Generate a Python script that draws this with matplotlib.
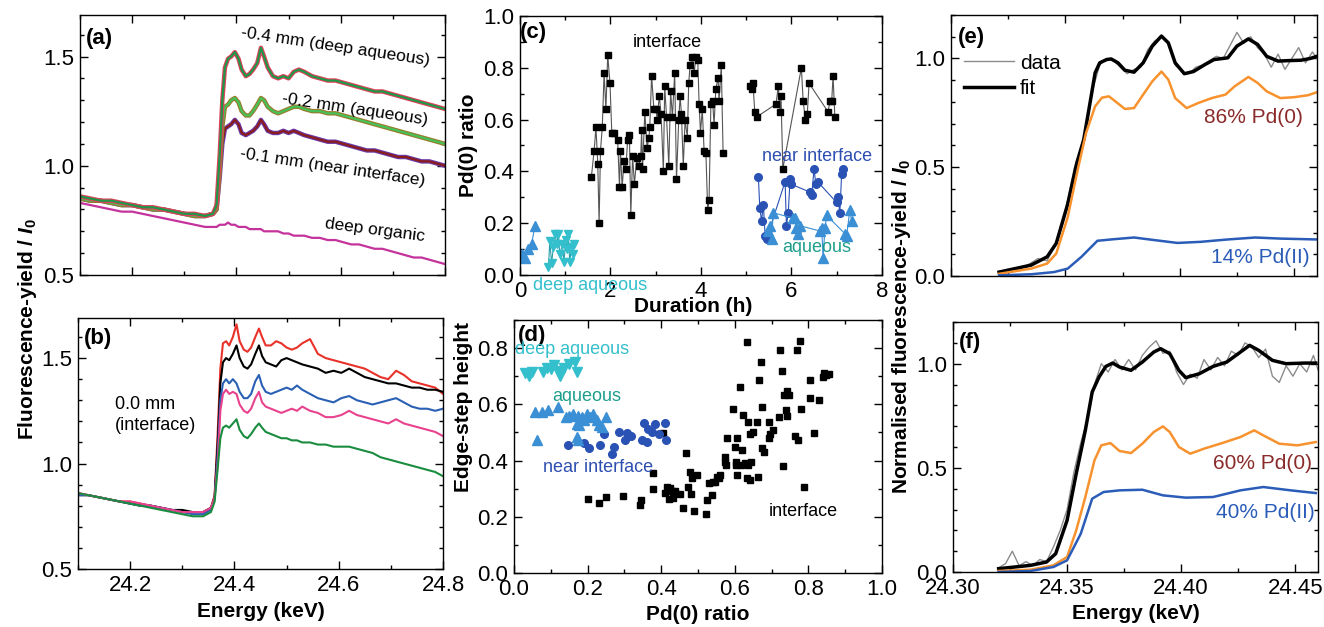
import matplotlib
matplotlib.use("Agg")
import matplotlib.pyplot as plt
from matplotlib.ticker import MultipleLocator, FormatStrFormatter

plt.rcParams['font.family'] = ['Liberation Sans', 'DejaVu Sans']
plt.rcParams['mathtext.fontset'] = 'custom'
plt.rcParams['mathtext.it'] = 'Liberation Sans:italic:bold'
plt.rcParams['mathtext.rm'] = 'Liberation Sans:bold'
plt.rcParams['axes.linewidth'] = 1.0

# ---------------- (a) / (b) spectra ----------------
E_ab = [24.10, 24.12, 24.14, 24.16, 24.18, 24.20, 24.22, 24.24, 24.26, 24.28, 24.30, 24.32, 24.34,
        24.355, 24.362, 24.368, 24.373, 24.378, 24.384, 24.39, 24.397, 24.404, 24.41, 24.418,
        24.425, 24.432, 24.44, 24.447, 24.453, 24.46,
        24.47, 24.48, 24.49, 24.50, 24.51, 24.52, 24.53,
        24.545, 24.56, 24.575, 24.59, 24.605, 24.62, 24.635, 24.65, 24.665, 24.68, 24.695,
        24.71, 24.725, 24.74, 24.755, 24.77, 24.785, 24.80]

a_deep_aq = [0.86, 0.85, 0.84, 0.84, 0.83, 0.82, 0.81, 0.81, 0.80, 0.79, 0.78, 0.78, 0.77,
             0.78, 0.82, 1.05, 1.30, 1.45, 1.49, 1.50, 1.52, 1.49, 1.44, 1.41, 1.42, 1.44, 1.47, 1.54, 1.50, 1.45,
             1.41, 1.40, 1.41, 1.40, 1.43, 1.44, 1.43,
             1.41, 1.40, 1.39, 1.39, 1.38, 1.37, 1.36, 1.35, 1.34, 1.34, 1.33, 1.32, 1.31, 1.30, 1.29, 1.28, 1.27, 1.26]
a_aq = [0.85, 0.84, 0.84, 0.83, 0.82, 0.82, 0.81, 0.80, 0.80, 0.79, 0.78, 0.77, 0.77,
        0.78, 0.80, 0.98, 1.18, 1.27, 1.28, 1.30, 1.31, 1.29, 1.25, 1.23, 1.23, 1.25, 1.28, 1.31, 1.30, 1.27,
        1.25, 1.24, 1.25, 1.26, 1.27, 1.27, 1.26,
        1.25, 1.25, 1.24, 1.24, 1.23, 1.22, 1.21, 1.20, 1.19, 1.18, 1.17, 1.16, 1.15, 1.14, 1.13, 1.12, 1.11, 1.10]
a_near = [0.85, 0.84, 0.84, 0.83, 0.82, 0.82, 0.81, 0.80, 0.80, 0.79, 0.78, 0.77, 0.77,
          0.78, 0.80, 0.95, 1.10, 1.17, 1.18, 1.19, 1.21, 1.19, 1.15, 1.14, 1.15, 1.16, 1.18, 1.21, 1.19, 1.16,
          1.15, 1.15, 1.16, 1.15, 1.16, 1.15, 1.14,
          1.13, 1.12, 1.11, 1.11, 1.10, 1.09, 1.08, 1.07, 1.07, 1.06, 1.05, 1.04, 1.04, 1.03, 1.02, 1.02, 1.01, 1.00]
a_organic = [0.83, 0.82, 0.81, 0.80, 0.79, 0.79, 0.78, 0.77, 0.76, 0.75, 0.74, 0.73, 0.72,
             0.72, 0.72, 0.73, 0.73, 0.73, 0.74, 0.73, 0.73, 0.72, 0.72, 0.72, 0.71, 0.71, 0.71, 0.71, 0.70, 0.70,
             0.70, 0.70, 0.69, 0.69, 0.68, 0.68, 0.68,
             0.67, 0.67, 0.66, 0.66, 0.65, 0.64, 0.64, 0.63, 0.62, 0.62, 0.61, 0.60, 0.59, 0.58, 0.58, 0.57, 0.56, 0.55]

b_red = [0.86, 0.85, 0.84, 0.83, 0.82, 0.82, 0.81, 0.80, 0.79, 0.78, 0.77, 0.77, 0.77,
         0.79, 0.85, 1.15, 1.45, 1.57, 1.58, 1.56, 1.60, 1.66, 1.58, 1.54, 1.53, 1.55, 1.60, 1.64, 1.60, 1.56,
         1.56, 1.58, 1.57, 1.55, 1.54, 1.55, 1.57,
         1.59, 1.52, 1.50, 1.49, 1.48, 1.47, 1.46, 1.45, 1.43, 1.41, 1.40, 1.44, 1.42, 1.39, 1.38, 1.37, 1.36, 1.33]
b_black = [0.85, 0.85, 0.84, 0.83, 0.82, 0.81, 0.80, 0.80, 0.79, 0.78, 0.78, 0.77, 0.77,
           0.79, 0.84, 1.10, 1.38, 1.48, 1.50, 1.49, 1.52, 1.56, 1.50, 1.46, 1.45, 1.47, 1.52, 1.56, 1.51, 1.48,
           1.47, 1.46, 1.49, 1.50, 1.49, 1.48, 1.47,
           1.46, 1.45, 1.43, 1.44, 1.43, 1.45, 1.43, 1.41, 1.40, 1.39, 1.38, 1.38, 1.37, 1.36, 1.36, 1.35, 1.35, 1.34]
b_blue = [0.85, 0.85, 0.84, 0.83, 0.82, 0.81, 0.80, 0.80, 0.79, 0.78, 0.77, 0.76, 0.76,
          0.78, 0.83, 1.05, 1.30, 1.38, 1.40, 1.38, 1.40, 1.38, 1.34, 1.31, 1.31, 1.33, 1.39, 1.42, 1.37, 1.34,
          1.33, 1.34, 1.35, 1.36, 1.35, 1.37, 1.35,
          1.33, 1.31, 1.30, 1.29, 1.31, 1.32, 1.30, 1.29, 1.28, 1.29, 1.30, 1.31, 1.29, 1.27, 1.26, 1.26, 1.25, 1.26]
b_pink = [0.86, 0.85, 0.84, 0.83, 0.82, 0.82, 0.81, 0.80, 0.79, 0.78, 0.77, 0.77, 0.77,
          0.79, 0.84, 1.00, 1.25, 1.33, 1.35, 1.33, 1.34, 1.33, 1.28, 1.25, 1.24, 1.26, 1.31, 1.34, 1.29, 1.27,
          1.26, 1.25, 1.24, 1.25, 1.26, 1.25, 1.27,
          1.25, 1.24, 1.22, 1.22, 1.23, 1.25, 1.23, 1.22, 1.21, 1.20, 1.19, 1.21, 1.19, 1.18, 1.17, 1.16, 1.15, 1.13]
b_green = [0.86, 0.85, 0.84, 0.83, 0.82, 0.81, 0.80, 0.79, 0.78, 0.77, 0.76, 0.75, 0.75,
           0.77, 0.82, 0.98, 1.12, 1.17, 1.18, 1.17, 1.19, 1.21, 1.16, 1.13, 1.12, 1.14, 1.17, 1.19, 1.17, 1.15,
           1.14, 1.13, 1.12, 1.12, 1.11, 1.11, 1.10,
           1.10, 1.09, 1.09, 1.08, 1.08, 1.08, 1.07, 1.06, 1.05, 1.03, 1.02, 1.01, 1.00, 0.99, 0.98, 0.97, 0.96, 0.94]

# ---------------- (c) Pd(0) ratio vs duration ----------------
t_int_a = [1.58, 1.64, 1.68, 1.72, 1.75, 1.78, 1.82, 1.86, 1.90, 1.94,
           1.99, 2.03, 2.08, 2.16, 2.20, 2.22, 2.26, 2.30, 2.34, 2.38,
           2.42, 2.45, 2.49, 2.53, 2.58, 2.63, 2.67, 2.69, 2.71, 2.76,
           2.81, 2.85, 2.87, 2.91, 2.96, 3.01, 3.03, 3.08, 3.12, 3.17,
           3.20, 3.24, 3.29, 3.33, 3.37, 3.42, 3.46, 3.51, 3.54, 3.57,
           3.61, 3.65, 3.70, 3.73, 3.76, 3.81, 3.85, 3.89, 3.93, 3.96,
           3.99, 4.03, 4.07, 4.11, 4.15, 4.18, 4.22, 4.26, 4.29, 4.33,
           4.38, 4.40, 4.45, 4.49]
r_int_a = [0.38, 0.48, 0.57, 0.43, 0.20, 0.48, 0.57, 0.78, 0.64, 0.85,
           0.74, 0.55, 0.55, 0.52, 0.34, 0.48, 0.34, 0.44, 0.41, 0.52,
           0.54, 0.23, 0.46, 0.35, 0.45, 0.42, 0.46, 0.56, 0.41, 0.63,
           0.49, 0.53, 0.57, 0.77, 0.64, 0.64, 0.60, 0.69, 0.62, 0.40,
           0.73, 0.61, 0.42, 0.71, 0.61, 0.78, 0.37, 0.60, 0.69, 0.62,
           0.42, 0.60, 0.53, 0.74, 0.81, 0.84, 0.78, 0.84, 0.83, 0.66,
           0.55, 0.64, 0.48, 0.47, 0.25, 0.29, 0.66, 0.67, 0.58, 0.72,
           0.76, 0.67, 0.81, 0.47]
t_int_b = [5.08, 5.12, 5.15, 5.19, 5.23, 5.66, 5.71, 5.75, 5.77, 5.81,
           6.22, 6.26, 6.31, 6.35, 6.39, 6.81, 6.85, 6.89, 6.92, 6.96]
r_int_b = [0.73, 0.72, 0.74, 0.63, 0.61, 0.66, 0.73, 0.63, 0.69, 0.41,
           0.80, 0.67, 0.60, 0.62, 0.74, 0.63, 0.67, 0.67, 0.77, 0.61]
t_near = [5.27, 5.30, 5.34, 5.38, 5.42, 5.45, 5.86, 5.89, 5.93, 5.97, 6.00,
          6.41, 6.45, 6.50, 6.54, 6.58, 7.00, 7.03, 7.07, 7.11, 7.15]
r_near = [0.38, 0.26, 0.21, 0.27, 0.15, 0.14, 0.36, 0.19, 0.24, 0.37, 0.35,
          0.32, 0.31, 0.41, 0.35, 0.36, 0.28, 0.30, 0.24, 0.39, 0.41]
t_aq_a = [0.04, 0.11, 0.18, 0.26, 0.33]
r_aq_a = [0.08, 0.065, 0.10, 0.12, 0.19]
t_aq_b = [5.49, 5.52, 5.56, 5.60, 6.04, 6.08, 6.11, 6.15, 6.19,
          6.63, 6.67, 6.70, 6.74, 6.78, 7.18, 7.22, 7.29, 7.33]
r_aq_b = [0.17, 0.19, 0.14, 0.24, 0.22, 0.22, 0.18, 0.16, 0.19,
          0.17, 0.18, 0.065, 0.18, 0.23, 0.16, 0.15, 0.25, 0.21]
t_deep = [0.63, 0.66, 0.70, 0.74, 0.77, 0.81, 0.85, 0.88, 0.94,
          0.97, 1.02, 1.05, 1.07, 1.10, 1.14, 1.18, 1.19]
r_deep = [0.03, 0.13, 0.045, 0.11, 0.16, 0.12, 0.16, 0.08, 0.12,
          0.05, 0.135, 0.10, 0.16, 0.05, 0.11, 0.08, 0.12]

# ---------------- (d) edge-step height vs Pd(0) ratio ----------------
d_deep_x = [0.03, 0.04, 0.05, 0.08, 0.09, 0.10, 0.11, 0.12, 0.125, 0.135, 0.15, 0.165, 0.17]
d_deep_y = [0.71, 0.70, 0.715, 0.715, 0.73, 0.725, 0.74, 0.72, 0.70, 0.73, 0.745, 0.75, 0.715]
d_aq_x = [0.057, 0.075, 0.093, 0.12, 0.14, 0.15, 0.16, 0.17, 0.175, 0.184, 0.19,
          0.198, 0.207, 0.216, 0.225, 0.232, 0.238, 0.25, 0.063, 0.17, 0.175, 0.177]
d_aq_y = [0.573, 0.573, 0.58, 0.59, 0.555, 0.56, 0.567, 0.53, 0.56, 0.556, 0.543,
          0.567, 0.556, 0.567, 0.543, 0.526, 0.52, 0.556, 0.473, 0.483, 0.473, 0.526]
d_near_x = [0.148, 0.189, 0.205, 0.234, 0.245, 0.266, 0.273, 0.284, 0.302, 0.306,
            0.317, 0.347, 0.352, 0.361, 0.365, 0.374, 0.383, 0.393, 0.409, 0.413]
d_near_y = [0.455, 0.463, 0.446, 0.455, 0.496, 0.423, 0.448, 0.502, 0.473, 0.499,
            0.487, 0.473, 0.532, 0.467, 0.514, 0.502, 0.53, 0.493, 0.535, 0.473]
d_int_x = [0.202, 0.231, 0.249, 0.295, 0.343, 0.345, 0.379, 0.377, 0.406, 0.411,
           0.415, 0.42, 0.424, 0.429, 0.433, 0.438, 0.451, 0.458, 0.468, 0.474,
           0.479, 0.48, 0.483, 0.488, 0.497, 0.521, 0.524, 0.529, 0.538, 0.542,
           0.547, 0.551, 0.556, 0.56, 0.572, 0.574, 0.577, 0.58, 0.595, 0.601,
           0.604, 0.606, 0.607, 0.604, 0.615, 0.617, 0.619, 0.622, 0.628, 0.633,
           0.633, 0.635, 0.637, 0.64, 0.642, 0.645, 0.649, 0.66, 0.662, 0.667,
           0.671, 0.674, 0.675, 0.678, 0.694, 0.692, 0.696, 0.704, 0.719, 0.722,
           0.728, 0.73, 0.733, 0.74, 0.742, 0.743, 0.746, 0.764, 0.769, 0.773,
           0.778, 0.78, 0.787, 0.803, 0.805, 0.814, 0.828, 0.84, 0.843, 0.849, 0.855]
d_int_y = [0.262, 0.25, 0.271, 0.275, 0.242, 0.26, 0.355, 0.298, 0.499, 0.284,
           0.307, 0.262, 0.301, 0.29, 0.266, 0.29, 0.281, 0.23, 0.426, 0.307,
           0.361, 0.28, 0.337, 0.219, 0.348, 0.21, 0.26, 0.319, 0.278, 0.322,
           0.325, 0.343, 0.337, 0.348, 0.414, 0.396, 0.384, 0.479, 0.582, 0.449,
           0.384, 0.479, 0.348, 0.396, 0.662, 0.384, 0.437, 0.561, 0.39, 0.337,
           0.822, 0.538, 0.384, 0.496, 0.331, 0.396, 0.502, 0.538, 0.343, 0.686,
           0.751, 0.591, 0.443, 0.432, 0.538, 0.479, 0.496, 0.508, 0.556, 0.792,
           0.719, 0.381, 0.635, 0.579, 0.557, 0.648, 0.633, 0.489, 0.792, 0.473,
           0.827, 0.585, 0.307, 0.686, 0.624, 0.499, 0.617, 0.697, 0.712, 0.703, 0.709]

# ---------------- (e) XANES fit, 86 % Pd(0) ----------------
E_e_data = [24.321, 24.325, 24.33, 24.335, 24.338, 24.342, 24.346, 24.35, 24.354, 24.358,
            24.362, 24.365, 24.368, 24.371, 24.374, 24.377, 24.38, 24.383, 24.386, 24.389,
            24.392, 24.395, 24.398, 24.401, 24.404, 24.407, 24.41, 24.413, 24.416, 24.419,
            24.422, 24.425, 24.428, 24.431, 24.434, 24.437, 24.44, 24.443, 24.446, 24.449,
            24.452, 24.455, 24.458, 24.46]
e_data = [0.02, 0.03, 0.03, 0.06, 0.08, 0.07, 0.15, 0.30, 0.50, 0.62,
          0.86, 0.97, 1.00, 0.99, 0.96, 0.93, 0.95, 0.96, 1.04, 1.08,
          1.10, 1.07, 0.97, 0.94, 0.93, 0.96, 0.97, 0.99, 1.01, 1.00,
          1.06, 1.12, 1.07, 1.10, 1.05, 1.02, 0.96, 1.02, 0.95, 1.00,
          1.05, 0.98, 1.03, 1.00]
E_e_fit = [24.321, 24.335, 24.342, 24.346, 24.351, 24.355, 24.358, 24.361, 24.363, 24.365,
           24.368, 24.370, 24.373, 24.376, 24.380, 24.384, 24.388, 24.392, 24.395, 24.398,
           24.402, 24.406, 24.411, 24.415, 24.421, 24.425, 24.430, 24.434, 24.438, 24.443,
           24.447, 24.453, 24.457, 24.460]
e_fit = [0.018, 0.05, 0.088, 0.15, 0.33, 0.52, 0.626, 0.81, 0.934, 0.98,
         0.995, 0.998, 0.98, 0.946, 0.937, 0.98, 1.057, 1.103, 1.072, 0.98,
         0.93, 0.94, 0.972, 0.995, 1.003, 1.057, 1.09, 1.065, 1.01, 0.988,
         0.99, 0.992, 1.0, 1.01]
E_e_pd0 = [24.321, 24.335, 24.342, 24.346, 24.351, 24.355, 24.359, 24.363, 24.366, 24.369,
           24.371, 24.376, 24.380, 24.384, 24.388, 24.392, 24.395, 24.398, 24.403, 24.408,
           24.414, 24.420, 24.424, 24.430, 24.434, 24.438, 24.444, 24.450, 24.456, 24.460]
e_pd0 = [0.01, 0.034, 0.057, 0.103, 0.27, 0.47, 0.657, 0.78, 0.82, 0.826,
         0.81, 0.768, 0.772, 0.834, 0.895, 0.94, 0.903, 0.818, 0.772, 0.795,
         0.818, 0.834, 0.872, 0.915, 0.888, 0.849, 0.818, 0.822, 0.831, 0.845]
E_e_pd2 = [24.321, 24.335, 24.345, 24.351, 24.357, 24.364, 24.371, 24.380, 24.389, 24.399,
           24.409, 24.421, 24.433, 24.444, 24.460]
e_pd2 = [0.003, 0.008, 0.018, 0.034, 0.088, 0.162, 0.169, 0.177, 0.165, 0.152,
         0.157, 0.168, 0.177, 0.172, 0.168]

# ---------------- (f) XANES fit, 60 % Pd(0) ----------------
E_f_data = [24.320, 24.323, 24.326, 24.329, 24.332, 24.335, 24.338, 24.341, 24.344, 24.347,
            24.350, 24.353, 24.356, 24.359, 24.362, 24.365, 24.368, 24.371, 24.374, 24.377,
            24.380, 24.383, 24.386, 24.389, 24.392, 24.395, 24.398, 24.401, 24.404, 24.407,
            24.410, 24.413, 24.416, 24.419, 24.422, 24.425, 24.428, 24.431, 24.434, 24.437,
            24.440, 24.443, 24.446, 24.449, 24.452, 24.455, 24.458, 24.46]
f_data = [0.02, 0.04, 0.10, 0.03, 0.05, 0.03, 0.06, 0.05, 0.12, 0.20,
          0.30, 0.48, 0.62, 0.74, 0.90, 1.00, 0.96, 1.02, 0.97, 1.02,
          0.97, 1.04, 1.08, 1.11, 1.05, 1.06, 0.96, 0.90, 0.95, 0.93,
          1.02, 0.97, 1.03, 0.99, 1.06, 1.04, 1.10, 1.08, 1.03, 1.07,
          0.94, 0.91, 0.99, 0.94, 1.00, 0.96, 1.04, 0.97]
E_f_fit = [24.320, 24.334, 24.341, 24.345, 24.350, 24.354, 24.358, 24.361, 24.364, 24.367,
           24.370, 24.373, 24.378, 24.383, 24.388, 24.391, 24.395, 24.399, 24.402, 24.408,
           24.414, 24.420, 24.426, 24.430, 24.434, 24.440, 24.446, 24.454, 24.459]
f_fit = [0.016, 0.032, 0.048, 0.088, 0.248, 0.472, 0.68, 0.864, 0.936, 0.987,
         1.003, 0.984, 0.968, 1.008, 1.056, 1.072, 1.048, 0.968, 0.933, 0.952,
         0.987, 1.008, 1.056, 1.088, 1.064, 1.016, 1.0, 1.003, 1.003]
E_f_pd0 = [24.320, 24.334, 24.344, 24.350, 24.354, 24.358, 24.362, 24.365, 24.369, 24.373,
           24.378, 24.383, 24.388, 24.392, 24.395, 24.399, 24.404, 24.410, 24.418, 24.426,
           24.432, 24.436, 24.443, 24.451, 24.459]
f_pd0 = [0.005, 0.011, 0.032, 0.072, 0.2, 0.36, 0.536, 0.608, 0.619, 0.581,
         0.571, 0.616, 0.672, 0.699, 0.672, 0.6, 0.568, 0.592, 0.619, 0.648,
         0.68, 0.656, 0.616, 0.608, 0.624]
E_f_pd2 = [24.320, 24.334, 24.344, 24.350, 24.356, 24.361, 24.366, 24.373, 24.383, 24.392,
           24.402, 24.414, 24.426, 24.436, 24.448, 24.459]
f_pd2 = [0.0, 0.005, 0.024, 0.056, 0.184, 0.352, 0.384, 0.392, 0.395, 0.368,
         0.357, 0.36, 0.392, 0.408, 0.392, 0.379]

C_NEAR = '#2a52b4'
C_AQ = '#3b8fd4'
C_DEEP = '#33bfcc'
C_ORANGE = '#f7922e'
C_PD2 = '#2a5cb8'
C_PD0_TXT = '#8b2a2a'


def style(ax, xmaj, xmin, ymaj, ymin):
    ax.xaxis.set_major_locator(MultipleLocator(xmaj))
    ax.xaxis.set_minor_locator(MultipleLocator(xmin))
    ax.yaxis.set_major_locator(MultipleLocator(ymaj))
    ax.yaxis.set_minor_locator(MultipleLocator(ymin))
    ax.tick_params(which='both', direction='in', top=True, right=True,
                   labelsize=16, width=1, pad=4)
    ax.tick_params(which='major', length=6)
    ax.tick_params(which='minor', length=3)


fig = plt.figure(figsize=(13.24, 6.27), dpi=100)
ax_a = fig.add_axes([0.0604, 0.5614, 0.2757, 0.4147])
ax_b = fig.add_axes([0.0589, 0.0925, 0.2757, 0.4003])
ax_c = fig.add_axes([0.3927, 0.5614, 0.2734, 0.4131])
ax_d = fig.add_axes([0.3882, 0.0861, 0.2780, 0.4035])
ax_e = fig.add_axes([0.7183, 0.5598, 0.2764, 0.4163])
ax_f = fig.add_axes([0.7198, 0.0877, 0.2757, 0.3987])

# (a)
ax_a.plot(E_ab, a_organic, color='#c4329c', lw=1.6)
ax_a.plot(E_ab, a_near, color='#6a3aa8', lw=3.2)
ax_a.plot(E_ab, a_near, color='#8b1c1c', lw=1.6)
ax_a.plot(E_ab, a_aq, color='#9a7a2a', lw=3.2)
ax_a.plot(E_ab, a_aq, color='#48c058', lw=1.6)
ax_a.plot(E_ab, a_deep_aq, color='#e0405a', lw=3.2)
ax_a.plot(E_ab, a_deep_aq, color='#1f9648', lw=1.6)
ax_a.set_xlim(24.1, 24.8)
ax_a.set_ylim(0.5, 1.69)
style(ax_a, 0.2, 0.1, 0.5, 0.1)
ax_a.tick_params(labelbottom=False)
ax_a.text(0.052, 0.91, '(a)', transform=ax_a.transAxes, fontsize=16, fontweight='bold',
          ha='center', va='center')
ann = dict(transform=ax_a.transAxes, fontsize=12.5, ha='center', va='center',
           rotation=-8.5, rotation_mode='anchor')
ax_a.text(0.70, 0.877, '-0.4 mm (deep aqueous)', **ann)
ax_a.text(0.753, 0.635, '-0.2 mm (aqueous)', **ann)
ax_a.text(0.693, 0.415, '-0.1 mm (near interface)', **ann)
ann['rotation'] = -7.5
ax_a.text(0.808, 0.173, 'deep organic', **ann)

# (b)
ax_b.plot(E_ab, b_red, color='#e8322a', lw=1.5)
ax_b.plot(E_ab, b_black, color='black', lw=1.5)
ax_b.plot(E_ab, b_blue, color='#2a60b4', lw=1.5)
ax_b.plot(E_ab, b_pink, color='#e8428e', lw=1.5)
ax_b.plot(E_ab, b_green, color='#1a8c40', lw=1.5)
ax_b.set_xlim(24.1, 24.8)
ax_b.set_ylim(0.5, 1.69)
style(ax_b, 0.2, 0.1, 0.5, 0.1)
ax_b.xaxis.set_major_formatter(FormatStrFormatter('%.1f'))
ax_b.set_xlabel('Energy (keV)', fontsize=15, fontweight='bold')
ax_b.xaxis.set_label_coords(0.5, -0.13)
ax_b.text(0.055, 0.92, '(b)', transform=ax_b.transAxes, fontsize=16, fontweight='bold',
          ha='center', va='center')
ax_b.text(0.101, 0.69, '0.0 mm\n(interface)', transform=ax_b.transAxes, fontsize=13,
          ha='left', va='top', linespacing=1.3)

fig.text(0.021, 0.475, r'Fluorescence-yield / $I_0$', rotation=90, fontsize=15,
         fontweight='bold', ha='center', va='center')

# (c)
ax_c.plot(t_int_a, r_int_a, color='#555555', lw=0.8, marker='s', ms=5,
          mfc='black', mec='black')
ax_c.plot(t_int_b, r_int_b, color='#555555', lw=0.8, marker='s', ms=5,
          mfc='black', mec='black')
ax_c.plot(t_near, r_near, color=C_NEAR, lw=0.8, marker='o', ms=5.5)
ax_c.plot(t_aq_a, r_aq_a, color=C_AQ, lw=0.8, marker='^', ms=6.5)
ax_c.plot(t_aq_b, r_aq_b, color=C_AQ, lw=0.8, marker='^', ms=6.5)
ax_c.plot(t_deep, r_deep, color='#2a9faa', lw=0.8, marker='v', ms=6,
          mfc=C_DEEP, mec=C_DEEP)
ax_c.set_xlim(0, 8)
ax_c.set_ylim(0, 1.0)
style(ax_c, 2, 1, 0.2, 0.1)
ax_c.set_ylabel('Pd(0) ratio', fontsize=15, fontweight='bold')
ax_c.set_xlabel('Duration (h)', fontsize=15, fontweight='bold')
ax_c.xaxis.set_label_coords(0.48, -0.085)
ax_c.text(0.036, 0.938, '(c)', transform=ax_c.transAxes, fontsize=16, fontweight='bold',
          ha='center', va='center')
ax_c.text(0.406, 0.896, 'interface', transform=ax_c.transAxes, fontsize=13,
          ha='center', va='center')
ax_c.text(0.82, 0.456, 'near interface', transform=ax_c.transAxes, fontsize=13,
          color='#2d4fb0', ha='center', va='center')
ax_c.text(0.82, 0.108, 'aqueous', transform=ax_c.transAxes, fontsize=13,
          color='#1f9e8c', ha='center', va='center')
ax_c.text(0.193, -0.039, 'deep aqueous', transform=ax_c.transAxes, fontsize=13,
          color=C_DEEP, ha='center', va='center', clip_on=False, zorder=5)

# (d)
ax_d.plot(d_int_x, d_int_y, ls='none', marker='s', ms=5, color='black')
ax_d.plot(d_near_x, d_near_y, ls='none', marker='o', ms=5.5, color=C_NEAR)
ax_d.plot(d_aq_x, d_aq_y, ls='none', marker='^', ms=6.5, color=C_AQ)
ax_d.plot(d_deep_x, d_deep_y, ls='none', marker='v', ms=6.5, color=C_DEEP)
ax_d.set_xlim(0, 1.0)
ax_d.set_ylim(0, 0.9)
style(ax_d, 0.2, 0.1, 0.2, 0.1)
ax_d.set_ylabel('Edge-step height', fontsize=15, fontweight='bold')
ax_d.yaxis.set_label_coords(-0.112, 0.655)
ax_d.set_xlabel('Pd(0) ratio', fontsize=15, fontweight='bold')
ax_d.xaxis.set_label_coords(0.5, -0.125)
ax_d.text(0.049, 0.94, '(d)', transform=ax_d.transAxes, fontsize=16, fontweight='bold',
          ha='center', va='center')
ax_d.text(0.158, 0.885, 'deep aqueous', transform=ax_d.transAxes, fontsize=13,
          color=C_DEEP, ha='center', va='center')
ax_d.text(0.198, 0.696, 'aqueous', transform=ax_d.transAxes, fontsize=13,
          color='#1f9e8c', ha='center', va='center')
ax_d.text(0.228, 0.419, 'near interface', transform=ax_d.transAxes, fontsize=13,
          color='#2d4fb0', ha='center', va='center')
ax_d.text(0.785, 0.245, 'interface', transform=ax_d.transAxes, fontsize=13,
          ha='center', va='center')

# (e)
ax_e.plot(E_e_data, e_data, color='#8c8c8c', lw=1.0, label='data')
ax_e.plot(E_e_fit, e_fit, color='black', lw=2.5, label='fit')
ax_e.plot(E_e_pd0, e_pd0, color=C_ORANGE, lw=1.8)
ax_e.plot(E_e_pd2, e_pd2, color=C_PD2, lw=1.8)
ax_e.set_xlim(24.30, 24.46)
ax_e.set_ylim(0, 1.2)
style(ax_e, 0.05, 0.025, 0.5, 0.1)
ax_e.tick_params(labelbottom=False)
ax_e.legend(loc='upper left', bbox_to_anchor=(0.0, 0.9), frameon=False, fontsize=15,
            handlelength=2.4, handletextpad=0.3, labelspacing=0.3, borderaxespad=0.2)
ax_e.text(0.057, 0.912, '(e)', transform=ax_e.transAxes, fontsize=16, fontweight='bold',
          ha='center', va='center')
ax_e.text(0.825, 0.609, '86% Pd(0)', transform=ax_e.transAxes, fontsize=15,
          color=C_PD0_TXT, ha='center', va='center')
ax_e.text(0.844, 0.069, '14% Pd(II)', transform=ax_e.transAxes, fontsize=15,
          color=C_PD2, ha='center', va='center')

# (f)
ax_f.plot(E_f_data, f_data, color='#8c8c8c', lw=1.0)
ax_f.plot(E_f_fit, f_fit, color='black', lw=2.5)
ax_f.plot(E_f_pd0, f_pd0, color=C_ORANGE, lw=1.8)
ax_f.plot(E_f_pd2, f_pd2, color=C_PD2, lw=1.8)
ax_f.set_xlim(24.30, 24.46)
ax_f.set_ylim(0, 1.2)
style(ax_f, 0.05, 0.025, 0.5, 0.1)
ax_f.xaxis.set_major_formatter(FormatStrFormatter('%.2f'))
ax_f.set_xlabel('Energy (keV)', fontsize=15, fontweight='bold')
ax_f.xaxis.set_label_coords(0.5, -0.128)
ax_f.text(0.047, 0.92, '(f)', transform=ax_f.transAxes, fontsize=16, fontweight='bold',
          ha='center', va='center')
ax_f.text(0.849, 0.436, '60% Pd(0)', transform=ax_f.transAxes, fontsize=15,
          color=C_PD0_TXT, ha='center', va='center')
ax_f.text(0.855, 0.24, '40% Pd(II)', transform=ax_f.transAxes, fontsize=15,
          color=C_PD2, ha='center', va='center')

fig.text(0.681, 0.48, r'Normalised fluorescence-yield / $I_0$', rotation=90, fontsize=15,
         fontweight='bold', ha='center', va='center')

fig.savefig('out.png', dpi=100)
